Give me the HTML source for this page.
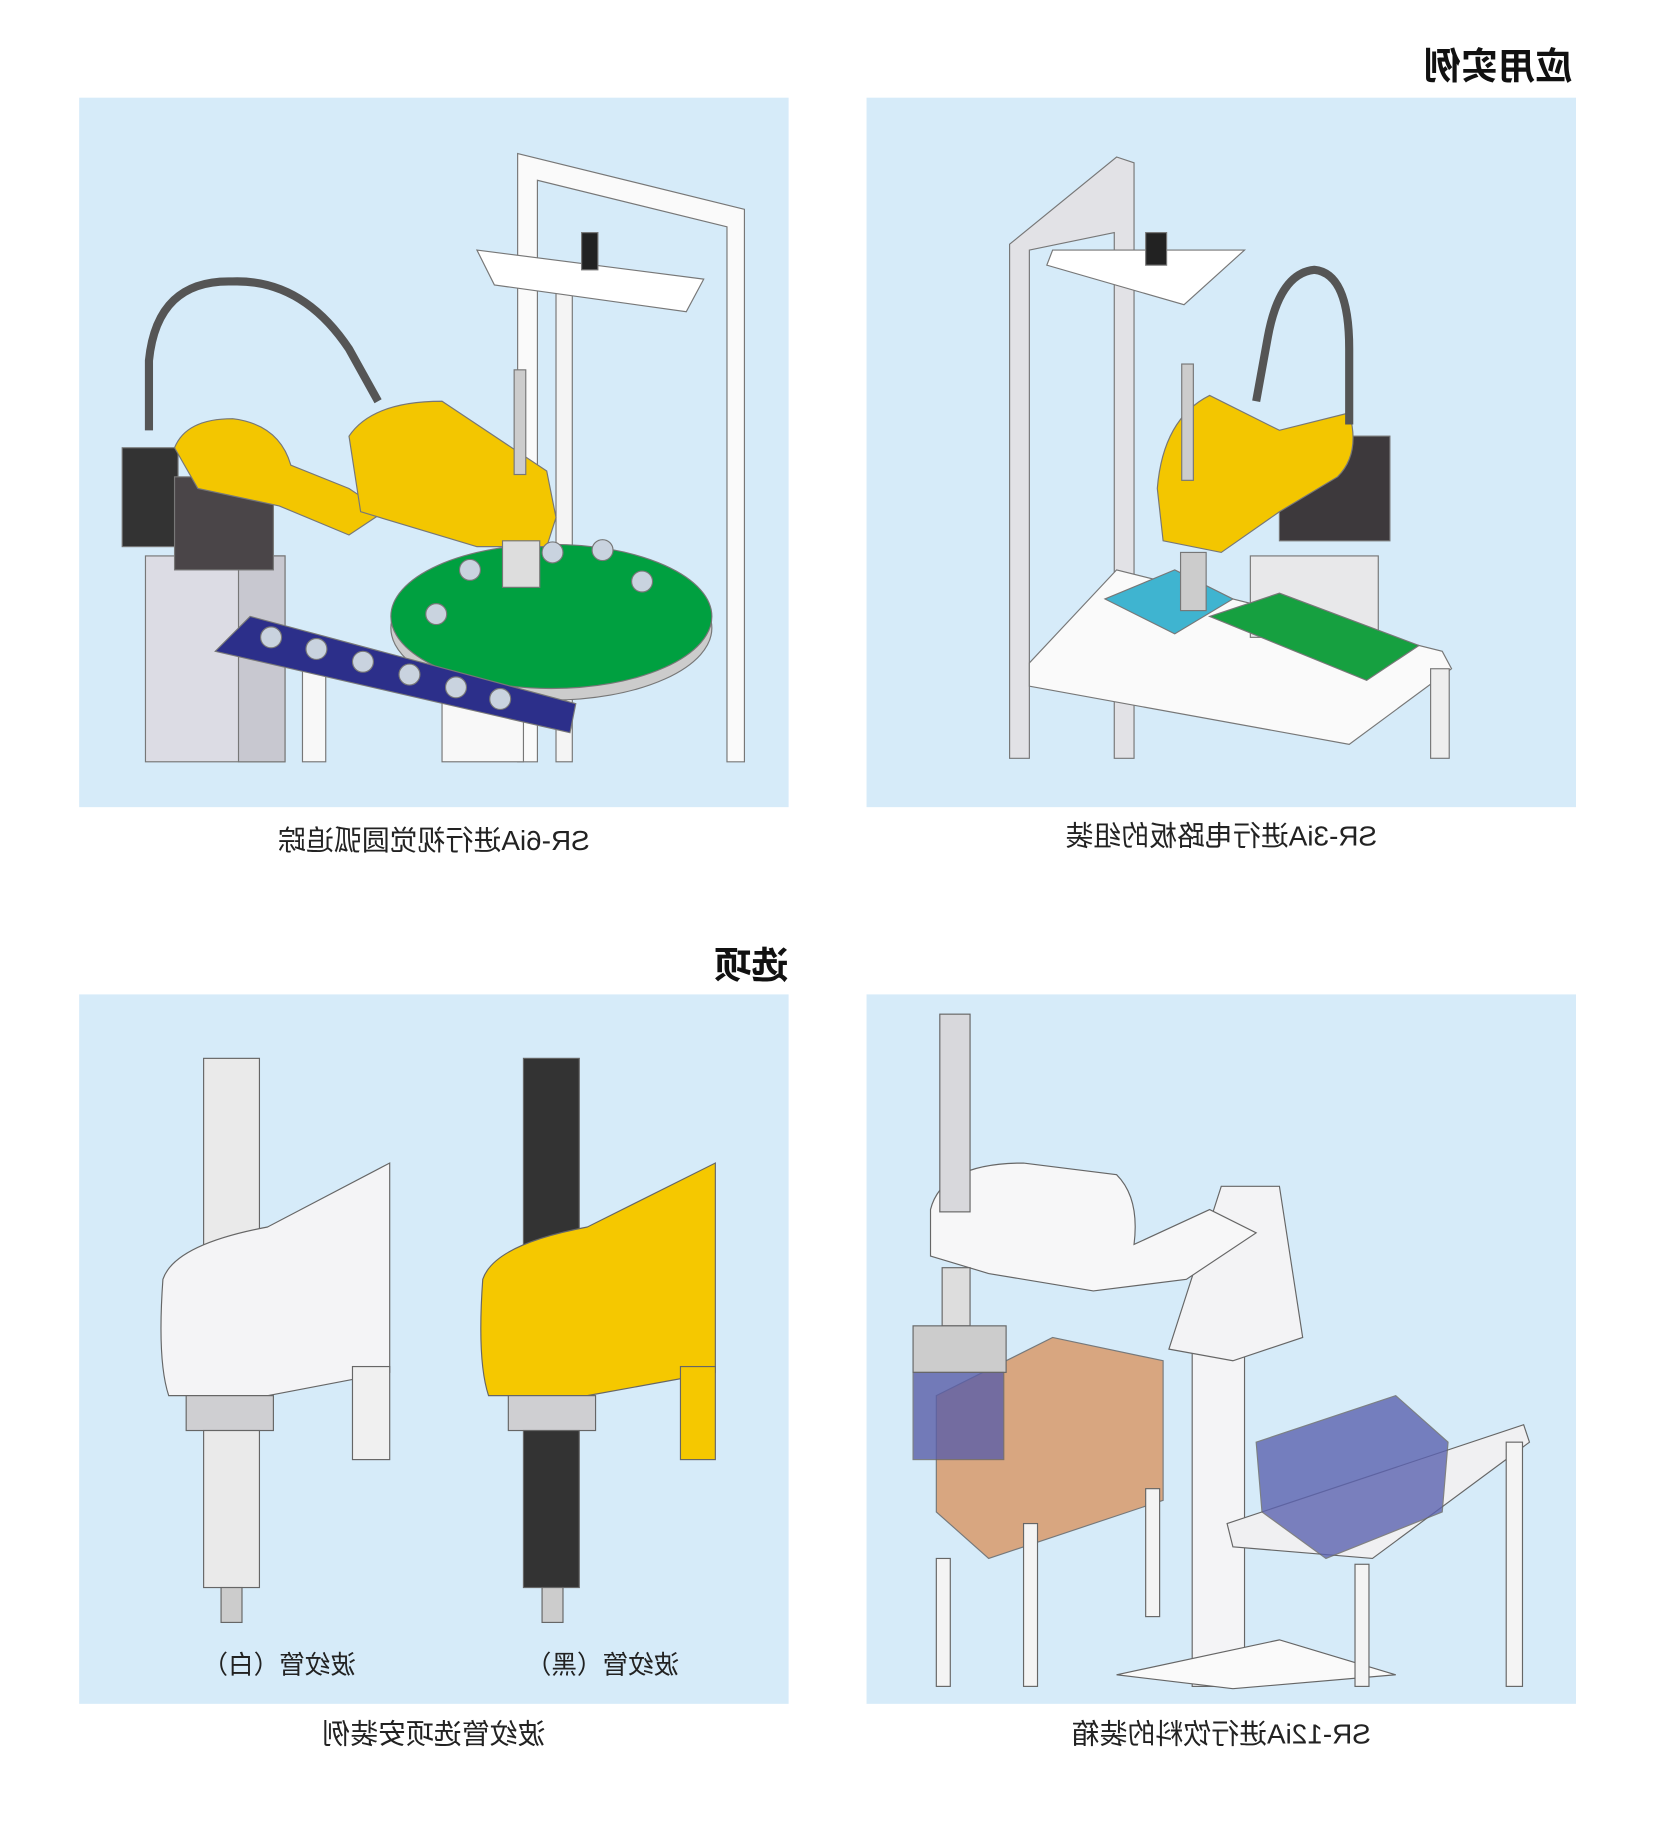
<!DOCTYPE html>
<html><head><meta charset="utf-8"><style>
html,body{margin:0;padding:0;background:#fff;}
svg{display:block;}
text{font-family:"Liberation Sans","Noto Sans CJK SC",sans-serif;}
</style></head><body>
<svg width="1654" height="1822" viewBox="0 0 1422 1566.6" xmlns="http://www.w3.org/2000/svg">
<rect width="1422" height="1567" fill="#fff"/>
<rect x="68" y="84" width="610" height="610" fill="#d6ebf9"/>
<rect x="745" y="84" width="610" height="610" fill="#d6ebf9"/>
<rect x="68" y="855" width="610" height="610" fill="#d6ebf9"/>
<rect x="745" y="855" width="610" height="610" fill="#d6ebf9"/>

<g transform="translate(1352,68) scale(-1,1)"><text x="0" y="0" font-size="32" font-weight="bold" fill="#111">应用实例</text></g>
<g transform="translate(678,841) scale(-1,1)"><text x="0" y="0" font-size="32" font-weight="bold" fill="#111">选项</text></g>

<g transform="translate(373,731) scale(-1,1)"><text x="0" y="0" font-size="24" text-anchor="middle" fill="#222">SR-6iA进行视觉圆弧追踪</text></g>
<g transform="translate(1050,727) scale(-1,1)"><text x="0" y="0" font-size="24" text-anchor="middle" fill="#222">SR-3iA进行电路板的组装</text></g>
<g transform="translate(373,1499) scale(-1,1)"><text x="0" y="0" font-size="24" text-anchor="middle" fill="#222">波纹管选项安装例</text></g>
<g transform="translate(1050,1499) scale(-1,1)"><text x="0" y="0" font-size="24" text-anchor="middle" fill="#222">SR-12iA进行饮料的装箱</text></g>
<g transform="translate(240,1439) scale(-1,1)"><text x="0" y="0" font-size="22" text-anchor="middle" fill="#222">波纹管（白）</text></g>
<g transform="translate(518,1439) scale(-1,1)"><text x="0" y="0" font-size="22" text-anchor="middle" fill="#222">波纹管（黑）</text></g>

<!-- Panel 1 -->
<g stroke="#777" stroke-width="1">
<polygon points="445,132 640,180 640,655 625,655 625,195 462,155 462,655 445,655" fill="#fafafa"/>
<rect x="478" y="240" width="14" height="415" fill="#f4f4f4"/>
<polygon points="410,215 605,240 590,268 425,245" fill="#fff"/>
<rect x="500" y="200" width="14" height="32" fill="#222"/>
<rect x="125" y="478" width="120" height="177" fill="#dcdce4"/>
<rect x="205" y="478" width="40" height="177" fill="#c8c8d0"/>
<rect x="260" y="560" width="20" height="95" fill="#f8f8f8"/>
<rect x="380" y="600" width="70" height="55" fill="#f8f8f8"/>
<ellipse cx="474" cy="540" rx="138" ry="62" fill="#ccc"/>
<ellipse cx="474" cy="530" rx="138" ry="62" fill="#00a040"/>
<polygon points="185,560 215,530 495,605 490,630" fill="#2c2f8a"/>
<rect x="105" y="385" width="48" height="85" fill="#333"/>
<rect x="150" y="410" width="85" height="80" fill="#4a4548"/>
<path d="M150 385 Q160 360 200 360 Q240 365 250 400 L300 420 L330 440 L300 460 L240 435 L170 420 Z" fill="#f3c600"/>
<path d="M300 375 Q320 345 380 345 L470 405 L478 445 L470 470 L410 470 L310 440 Z" fill="#f3c600"/>
<rect x="442" y="318" width="10" height="90" fill="#ccc"/>
<rect x="432" y="465" width="32" height="40" fill="#ddd"/>
<path d="M128 370 L128 310 Q135 240 200 242 Q260 240 300 300 L325 345" fill="none" stroke="#555" stroke-width="7"/>
</g>
<g fill="#c9d3df" stroke="#777">
<circle cx="233" cy="548" r="9"/><circle cx="272" cy="558" r="9"/><circle cx="312" cy="569" r="9"/><circle cx="352" cy="580" r="9"/><circle cx="392" cy="591" r="9"/><circle cx="430" cy="601" r="9"/>
<circle cx="404" cy="490" r="9"/><circle cx="475" cy="475" r="9"/><circle cx="518" cy="473" r="9"/><circle cx="552" cy="500" r="9"/><circle cx="375" cy="528" r="9"/>
</g>

<!-- Panel 2 -->
<g stroke="#777" stroke-width="1">
<polygon points="868,210 960,135 975,140 975,652 958,652 958,200 885,215 885,652 868,652" fill="#e2e2e6"/>
<polygon points="905,215 1070,215 1018,262 900,228" fill="#fff"/>
<rect x="985" y="200" width="18" height="28" fill="#222"/>
<polygon points="885,570 960,490 1240,560 1248,575 1160,640 885,590" fill="#fafafa"/>
<rect x="1230" y="575" width="16" height="77" fill="#eee"/>
<rect x="1075" y="478" width="110" height="70" fill="#e8e8ea"/>
<polygon points="1040,530 1100,510 1220,555 1175,585" fill="#16a040"/>
<polygon points="950,515 1010,490 1060,515 1010,545" fill="#3fb4d0"/>
<rect x="1100" y="375" width="95" height="90" fill="#3d393c"/>
<path d="M995 420 Q1000 360 1040 340 L1100 370 L1160 355 Q1170 390 1150 410 L1100 440 L1050 475 L1000 465 Z" fill="#f3c600"/>
<rect x="1016" y="313" width="10" height="100" fill="#ccc"/>
<rect x="1015" y="475" width="22" height="50" fill="#ccc"/>
<path d="M1080 345 L1090 290 Q1100 235 1130 232 Q1160 235 1160 300 L1160 365" fill="none" stroke="#555" stroke-width="7"/>
</g>

<!-- Panel 3 -->
<g stroke="#666" stroke-width="1">
<rect x="175" y="910" width="48" height="180" fill="#eaeaea"/>
<path d="M140 1100 Q150 1070 230 1055 L335 1000 L335 1180 L230 1200 L145 1200 Q135 1170 140 1100 Z" fill="#f4f4f6"/>
<rect x="160" y="1200" width="75" height="30" fill="#cfcfd2"/>
<rect x="175" y="1230" width="48" height="135" fill="#eaeaea"/>
<rect x="303" y="1175" width="32" height="80" fill="#f0f0f0"/>
<rect x="450" y="910" width="48" height="180" fill="#333"/>
<path d="M415 1100 Q425 1070 505 1055 L615 1000 L615 1180 L505 1200 L420 1200 Q410 1170 415 1100 Z" fill="#f5c800"/>
<rect x="437" y="1200" width="75" height="30" fill="#cfcfd2"/>
<rect x="450" y="1230" width="48" height="135" fill="#333"/>
<rect x="585" y="1175" width="30" height="80" fill="#f5c800"/>
<rect x="190" y="1365" width="18" height="30" fill="#ccc"/>
<rect x="466" y="1365" width="18" height="30" fill="#ccc"/>
</g>

<!-- Panel 4 -->
<g stroke="#666" stroke-width="1">
<rect x="1025" y="1150" width="45" height="300" fill="#f4f4f6"/>
<polygon points="960,1440 1100,1410 1200,1440 1060,1452" fill="#fafafa"/>
<polygon points="1005,1160 1050,1020 1100,1020 1120,1150 1060,1170" fill="#f3f3f5"/>
<path d="M800 1040 Q810 1000 880 1000 L960 1010 Q980 1030 975 1070 L1040 1040 L1080 1060 L1020 1100 L940 1110 L850 1095 L800 1080 Z" fill="#f7f7f8"/>
<rect x="808" y="872" width="26" height="170" fill="#d8d8dc"/>
<rect x="810" y="1090" width="24" height="50" fill="#ddd"/>
<polygon points="805,1200 905,1150 1000,1170 1000,1290 850,1340 805,1300" fill="#d99a6c" opacity="0.85"/>
<rect x="785" y="1140" width="80" height="40" fill="#ccc"/>
<rect x="785" y="1180" width="78" height="75" fill="#5a5ea8" opacity="0.8"/>
<rect x="805" y="1340" width="12" height="110" fill="#f4f4f4"/>
<rect x="880" y="1310" width="12" height="140" fill="#f4f4f4"/>
<rect x="985" y="1280" width="12" height="110" fill="#f4f4f4"/>
<polygon points="1055,1310 1310,1225 1315,1240 1180,1340 1060,1330" fill="#f0f0f2"/>
<polygon points="1080,1240 1200,1200 1245,1240 1240,1300 1140,1340 1085,1300" fill="#5c63b0" opacity="0.8"/>
<rect x="1165" y="1345" width="12" height="105" fill="#f4f4f4"/>
<rect x="1295" y="1240" width="14" height="210" fill="#f4f4f4"/>
</g>
</svg>
</body></html>
